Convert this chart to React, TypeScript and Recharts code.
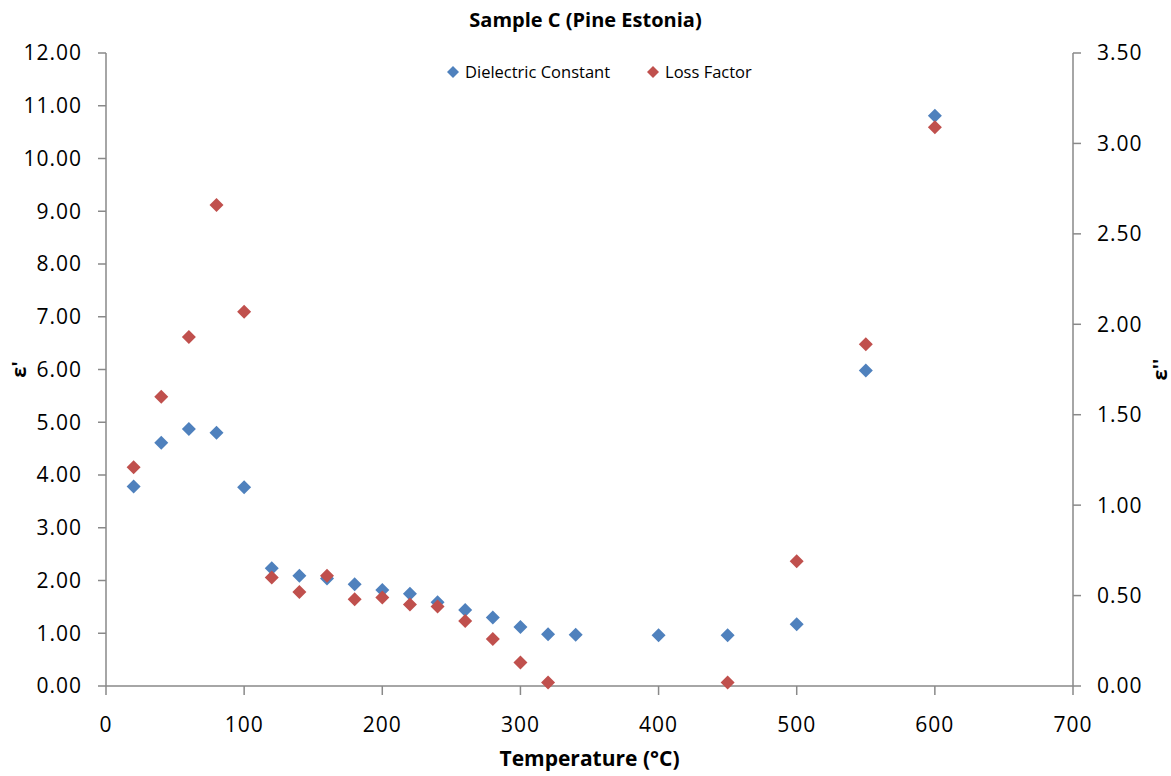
import { Legend, Scatter, ScatterChart, XAxis, YAxis } from "recharts"

const dielectricTemps = [20, 40, 60, 80, 100, 120, 140, 160, 180, 200, 220, 240, 260, 280, 300, 320, 340, 400, 450, 500, 550, 600]
const dielectricConstant = [3.78, 4.61, 4.87, 4.8, 3.77, 2.23, 2.09, 2.04, 1.93, 1.82, 1.75, 1.59, 1.44, 1.3, 1.12, 0.98, 0.97, 0.96, 0.96, 1.17, 5.98, 10.81]

const lossTemps = [20, 40, 60, 80, 100, 120, 140, 160, 180, 200, 220, 240, 260, 280, 300, 320, 450, 500, 550, 600]
const lossFactor = [1.21, 1.6, 1.93, 2.66, 2.07, 0.6, 0.52, 0.61, 0.48, 0.49, 0.45, 0.44, 0.36, 0.26, 0.13, 0.02, 0.02, 0.69, 1.89, 3.09]

const xTicks = [0, 100, 200, 300, 400, 500, 600, 700]
const leftTicks = [0, 1, 2, 3, 4, 5, 6, 7, 8, 9, 10, 11, 12]
const rightTicks = [0, 0.5, 1, 1.5, 2, 2.5, 3, 3.5]

const BLUE = "#4F81BD"
const RED = "#C0504D"
const AXIS = "#898989"
const FONT = "'Open Sans', sans-serif"

const dielectricData = dielectricTemps.map((t, i) => ({ x: t, y: dielectricConstant[i] }))
const lossData = lossTemps.map((t, i) => ({ x: t, y: lossFactor[i] }))

const diamond = (color: string) => (props: any) => {
  const { cx, cy } = props
  const r = 7
  return <path d={`M${cx},${cy - r}L${cx + r},${cy}L${cx},${cy + r}L${cx - r},${cy}Z`} fill={color} />
}

const tickStyle = { fill: "#000", fontSize: 21, fontFamily: FONT, letterSpacing: 1 }

const sideLabel = (text: string, side: "left" | "right") => (props: any) => {
  const { x, y, width, height } = props.viewBox
  const lx = side === "left" ? x + 12 : x + width - 12
  const ly = y + height / 2
  return (
    <text
      x={lx}
      y={ly}
      transform={`rotate(-90 ${lx} ${ly})`}
      textAnchor="middle"
      dominantBaseline="central"
      fontFamily={FONT}
      fontWeight="bold"
      fontSize={20}
      fill="#000"
    >
      {text}
    </text>
  )
}

const renderLegend = () => (
  <div style={{ display: "flex", fontFamily: FONT, fontSize: 16.5, color: "#000" }}>
    {[
      { name: "Dielectric Constant", color: BLUE },
      { name: "Loss Factor", color: RED },
    ].map((item) => (
      <div key={item.name} style={{ display: "flex", alignItems: "center", marginRight: 36 }}>
        <svg width={14} height={14} style={{ marginRight: 5 }}>
          <path d="M7,1L13,7L7,13L1,7Z" fill={item.color} />
        </svg>
        <span>{item.name}</span>
      </div>
    ))}
  </div>
)

export default function App() {
  return (
    <div style={{ position: "absolute", left: 0, top: 0, width: 1171, height: 776, background: "#fff" }}>
      <div
        style={{
          position: "absolute",
          top: 6,
          left: 0,
          width: 1171,
          textAlign: "center",
          fontFamily: FONT,
          fontWeight: "bold",
          fontSize: 20,
          color: "#000",
        }}
      >
        Sample C (Pine Estonia)
      </div>
      <ScatterChart width={1171} height={776} margin={{ top: 53, right: 0, bottom: 10, left: 6 }}>
        <XAxis
          type="number"
          dataKey="x"
          domain={[0, 700]}
          ticks={xTicks}
          interval={0}
          height={80}
          tick={tickStyle}
          tickSize={9}
          tickMargin={22}
          stroke={AXIS}
          strokeWidth={1.5}
          label={{
            value: "Temperature (°C)",
            position: "insideBottom",
            offset: 0,
            fontFamily: FONT,
            fontWeight: "bold",
            fontSize: 21,
            fill: "#000",
          }}
        />
        <YAxis
          yAxisId="left"
          type="number"
          dataKey="y"
          domain={[0, 12]}
          ticks={leftTicks}
          interval={0}
          width={100}
          tick={tickStyle}
          tickSize={8}
          tickMargin={16}
          tickFormatter={(v: number) => v.toFixed(2)}
          stroke={AXIS}
          strokeWidth={1.5}
          label={{ content: sideLabel("ε'", "left") }}
        />
        <YAxis
          yAxisId="right"
          orientation="right"
          type="number"
          dataKey="y"
          domain={[0, 3.5]}
          ticks={rightTicks}
          interval={0}
          width={98}
          tick={tickStyle}
          tickSize={8}
          tickMargin={16}
          tickFormatter={(v: number) => v.toFixed(2)}
          stroke={AXIS}
          strokeWidth={1.5}
          label={{ content: sideLabel("ε''", "right") }}
        />
        <Legend
          layout="horizontal"
          verticalAlign="middle"
          align="center"
          content={renderLegend}
          wrapperStyle={{ top: 60, left: 446, width: 380 }}
        />
        <Scatter
          name="Dielectric Constant"
          data={dielectricData}
          yAxisId="left"
          fill={BLUE}
          shape={diamond(BLUE)}
          isAnimationActive={false}
        />
        <Scatter
          name="Loss Factor"
          data={lossData}
          yAxisId="right"
          fill={RED}
          shape={diamond(RED)}
          isAnimationActive={false}
        />
      </ScatterChart>
    </div>
  )
}
